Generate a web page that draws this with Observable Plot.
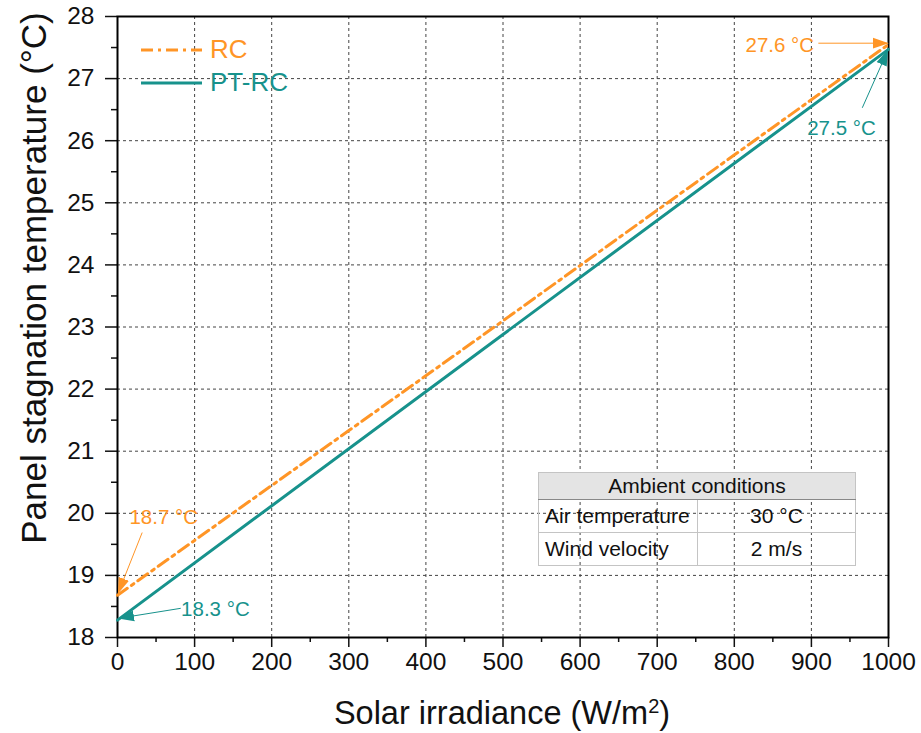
<!DOCTYPE html>
<html><head><meta charset="utf-8">
<script src="https://cdn.jsdelivr.net/npm/d3@7"></script>
<script src="https://cdn.jsdelivr.net/npm/@observablehq/plot@0.6"></script>
<style>
body{margin:0;background:#fff;font-family:"Liberation Sans",Arial,sans-serif;}
#wrap{position:relative;width:921px;height:733px;}
#legend{position:absolute;left:140px;top:33px;font-size:26px;line-height:33px;}
#legend div{display:flex;align-items:center;}
#legend svg{margin-right:6px;}
#tbl{position:absolute;left:538px;top:472px;width:317px;height:93px;border-collapse:collapse;table-layout:fixed;font-size:21px;color:#111;border:1.5px solid #666;}
#tbl td{border:1px solid #c4c4c4;padding:0 0 0 6px;white-space:nowrap;overflow:visible;}
#tbl tr:first-child td{background:#e4e4e4;height:26px;text-align:center;border-bottom:1px solid #888;padding:0;}
#tbl tr.r td{height:32px;}
</style></head>
<body><div id="wrap"></div>
<script>
// data
const irradiance = [0, 500, 1000];
const rcTemp = [18.68, 23.1, 27.55];
const ptrcTemp = [18.28, 22.88, 27.47];
const seriesNames = ["RC", "PT-RC"];
const xTicks = [0,100,200,300,400,500,600,700,800,900,1000];
const xMinor = [50,150,250,350,450,550,650,750,850,950];
const yTicks = [18,19,20,21,22,23,24,25,26,27,28];
const yMinor = [18.5,19.5,20.5,21.5,22.5,23.5,24.5,25.5,26.5,27.5];
const annLabels = ["27.6 °C", "27.5 °C", "18.7 °C", "18.3 °C"];
const annSeries = ["RC", "PT-RC", "RC", "PT-RC"];
const annTextX = [859, 939, 60, 127];
const annTextY = [27.53, 26.2, 19.93, 18.45];
const annFromX = [909, 966, 32, 82];
const annFromY = [27.57, 26.53, 19.69, 18.47];
const annToX = [999, 999, 1, 2];
const annToY = [27.57, 27.45, 18.72, 18.31];
const tableTitle = "Ambient conditions";
const tableRows = [["Air temperature", "30 °C"], ["Wind velocity", "2 m/s"]];

const ORANGE = "#ff9526", TEAL = "#17928c";
const colorOf = s => s === "RC" ? ORANGE : TEAL;

const rc = irradiance.map((x,i)=>({x, y: rcTemp[i]}));
const pt = irradiance.map((x,i)=>({x, y: ptrcTemp[i]}));
const ann = annLabels.map((t,i)=>({t, s: annSeries[i], tx: annTextX[i], ty: annTextY[i], x1: annFromX[i], y1: annFromY[i], x2: annToX[i], y2: annToY[i]}));

const chart = Plot.plot({
  width: 921, height: 733,
  marginLeft: 117, marginRight: 33, marginTop: 16, marginBottom: 96,
  x: {domain: [0, 1000]},
  y: {domain: [18, 28]},
  style: {fontFamily: "'Liberation Sans', Arial, sans-serif", background: "#fff", color: "#111"},
  marks: [
    Plot.gridX(xTicks, {stroke: "#444", strokeOpacity: 1, strokeDasharray: "3,3"}),
    Plot.gridY(yTicks, {stroke: "#444", strokeOpacity: 1, strokeDasharray: "3,3"}),
    Plot.axisX(xTicks, {tickSize: 10, text: null, label: null, strokeWidth: 1.5}),
    Plot.axisX(xMinor, {tickSize: 5, text: null, label: null, strokeWidth: 1.5}),
    Plot.axisY(yTicks, {tickSize: 12, text: null, label: null, strokeWidth: 1.5}),
    Plot.axisY(yMinor, {tickSize: 6, text: null, label: null, strokeWidth: 1.5}),
    Plot.text(xTicks, {x: d => d, text: d => String(d), frameAnchor: "bottom", dy: 32, fontSize: 24.5, fill: "#111"}),
    Plot.text(yTicks, {y: d => d, text: d => String(d), frameAnchor: "left", dx: -23, textAnchor: "end", fontSize: 24.5, fill: "#111"}),
    Plot.frame({stroke: "#000", strokeWidth: 2}),
    Plot.line(rc, {x: "x", y: "y", stroke: ORANGE, strokeWidth: 3, strokeDasharray: "12,5,3,5"}),
    Plot.line(pt, {x: "x", y: "y", stroke: TEAL, strokeWidth: 3}),
    Plot.link(ann, {x1: "x1", y1: "y1", x2: "x2", y2: "y2", stroke: d => colorOf(d.s), strokeWidth: 1, className: "annlink"}),
    Plot.text(ann, {x: "tx", y: "ty", text: "t", fill: d => colorOf(d.s), fontSize: 20.5})
  ]
});

const svg = d3.select(chart);
const defs = svg.insert("defs", ":first-child");
[["mo", ORANGE], ["mt", TEAL]].forEach(([id, c]) => {
  defs.append("marker").attr("id", id).attr("viewBox", "0 -6 16 12")
    .attr("refX", 15).attr("refY", 0).attr("markerWidth", 16).attr("markerHeight", 12)
    .attr("markerUnits", "userSpaceOnUse").attr("orient", "auto")
    .append("path").attr("d", "M0,-5.5L16,0L0,5.5Z").attr("fill", c);
});
svg.selectAll("g.annlink path").each(function() {
  const s = d3.select(this).attr("stroke");
  d3.select(this).attr("marker-end", s === ORANGE ? "url(#mo)" : "url(#mt)");
});
// axis titles
svg.append("text").attr("x", 502).attr("y", 724).attr("text-anchor", "middle")
  .attr("font-size", 32.5).attr("fill", "#111")
  .html('Solar irradiance (W/m<tspan baseline-shift="super" font-size="20">2</tspan>)');
svg.append("text").attr("transform", "translate(34,278) rotate(-90)").attr("text-anchor", "middle")
  .attr("dy", "0.35em").attr("font-size", 35).attr("fill", "#111")
  .text("Panel stagnation temperature (°C)");

const wrap = document.getElementById("wrap");
wrap.appendChild(chart);

// legend
const leg = document.createElement("div");
leg.id = "legend";
leg.innerHTML = seriesNames.map(s => `<div style="color:${colorOf(s)}"><svg width="64" height="10"><line x1="1" y1="5" x2="62" y2="5" stroke="${colorOf(s)}" stroke-width="3" ${s==="RC"?'stroke-dasharray="12,5,3,5"':''}/></svg>${s}</div>`).join("");
wrap.appendChild(leg);

// table
const tbl = document.createElement("table");
tbl.id = "tbl";
tbl.innerHTML = `<colgroup><col style="width:159px"><col style="width:158px"></colgroup><tr><td colspan="2">${tableTitle}</td></tr>` +
  tableRows.map(r => `<tr class="r"><td>${r[0]}</td><td style="text-align:center;padding:0">${r[1]}</td></tr>`).join("");
wrap.appendChild(tbl);
</script></body></html>
